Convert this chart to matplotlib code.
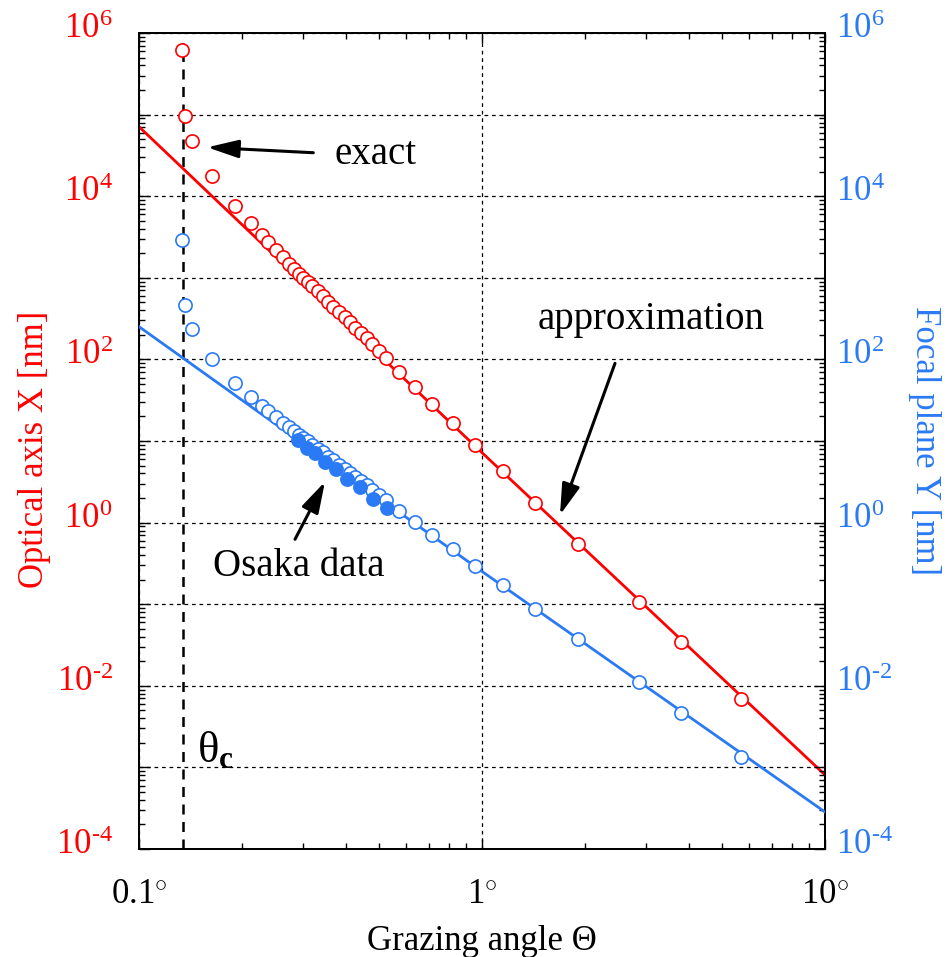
import matplotlib
matplotlib.use("Agg")
import matplotlib.pyplot as plt
from matplotlib.ticker import FixedLocator, FuncFormatter, LogLocator, NullFormatter
import matplotlib.transforms as mtransforms

plt.rcParams['font.family'] = ['Liberation Serif', 'DejaVu Serif']
plt.rcParams['mathtext.fontset'] = 'custom'
plt.rcParams['mathtext.rm'] = 'Liberation Serif'
plt.rcParams['mathtext.it'] = 'Liberation Serif:italic'
plt.rcParams['mathtext.bf'] = 'Liberation Serif:bold'

RED = '#ff0000'
BLUE = '#2a7af5'

# ---------------- data ----------------
# grazing angles [deg] of the "exact" points
theta_exact = [0.1332, 0.1362, 0.1430, 0.1636, 0.1905, 0.2121,
               0.2279, 0.2382, 0.2503, 0.2634, 0.2737, 0.2836, 0.2927, 0.3013,
               0.3103, 0.3200, 0.3319, 0.3428, 0.3564, 0.3686, 0.3829, 0.3986,
               0.4122, 0.4262, 0.4429, 0.4611, 0.4789, 0.5008, 0.5250,
               0.5741, 0.6378, 0.7165, 0.8214, 0.956, 1.149, 1.427, 1.909,
               2.869, 3.811, 5.69]
# optical axis X [nm] (exact)
x_exact = [6.19e5, 9.62e4, 4.71e4, 1.77e4, 7586, 4699,
           3319, 2748, 2208, 1799, 1489, 1294, 1114, 995,
           881, 787, 684, 590, 509, 443, 384, 333,
           290, 245, 209, 181, 153, 127, 105,
           69.5, 45.5, 28.4, 16.5, 8.85, 4.26, 1.73, 0.542,
           0.1074, 0.0341, 0.00684]
# focal plane Y [nm] (exact)
y_exact = [2904, 464.5, 236, 100.2, 50.9, 34.9,
           26.5, 23.1, 19.7, 16.7, 14.9, 13.3, 12.0, 10.9,
           9.98, 9.04, 8.07, 7.27, 6.44, 5.78, 5.14, 4.53,
           4.06, 3.65, 3.24, 2.86, 2.54, 2.20, 1.90,
           1.387, 1.009, 0.705, 0.471, 0.294, 0.172, 0.0867, 0.0372,
           0.01104, 0.00461, 0.00135]

# Osaka data (focal plane Y)
theta_osaka = [0.290, 0.3083, 0.326, 0.3487, 0.3746, 0.4033, 0.441, 0.482, 0.5275]
y_osaka = [10.28, 8.28, 7.08, 5.48, 4.54, 3.42, 2.71, 1.93, 1.50]

# approximation lines
theta_approx = [0.1, 1.0, 10.0]
x_approx = [7.1e4, 7.2, 8.1e-4]
y_approx = [252, 0.252, 2.84e-4]

# critical angle
theta_c = 0.1341
theta_c_span = [1e-4, 7.5e5]

xticks = [0.1, 1, 10]
xtick_labels = [r'$\mathrm{0.1}^{\circ}$', r'$\mathrm{1}^{\circ}$', r'$\mathrm{10}^{\circ}$']
ydecades = [1e-4, 1e-3, 1e-2, 1e-1, 1e0, 1e1, 1e2, 1e3, 1e4, 1e5, 1e6]
ylabel_exps = {1e-4: '-4', 1e-2: '-2', 1e0: '0', 1e2: '2', 1e4: '4', 1e6: '6'}

# ---------------- figure ----------------
fig = plt.figure(figsize=(9.53, 9.57), dpi=100)
ax = fig.add_axes([139/953, 1-849/957, (825-139)/953, (849-33)/957])
ax2 = ax.twinx()

for a in (ax, ax2):
    a.set_xscale('log')
    a.set_yscale('log')
    a.set_xlim(0.1, 10)
    a.set_ylim(1e-4, 1e6)

ax.set_axisbelow(True)
ax.xaxis.set_major_locator(FixedLocator(xticks))
ax.xaxis.set_minor_locator(LogLocator(base=10, subs=range(2, 10), numticks=50))
ax.xaxis.set_major_formatter(FuncFormatter(lambda v, p: xtick_labels[xticks.index(v)] if v in xticks else ''))
ax.xaxis.set_minor_formatter(NullFormatter())

def yfmt(v, p):
    for k, e in ylabel_exps.items():
        if abs(v / k - 1) < 1e-6:
            return r'$\mathrm{10}^{\text{%s}}$' % e
    return ''

for a in (ax, ax2):
    a.yaxis.set_major_locator(FixedLocator(ydecades))
    a.yaxis.set_minor_locator(LogLocator(base=10, subs=range(2, 10), numticks=50))
    a.yaxis.set_major_formatter(FuncFormatter(yfmt))
    a.yaxis.set_minor_formatter(NullFormatter())

ax.grid(True, which='major', color='black', linestyle=(0, (3, 3)), linewidth=0.9)

ax.tick_params(axis='x', which='both', direction='in', top=True, bottom=True,
               labelsize=25, pad=21, width=1)
ax.tick_params(axis='x', which='major', length=7)
ax.tick_params(axis='x', which='minor', length=4)
ax.tick_params(axis='y', which='both', direction='in', left=True, right=False,
               labelsize=25, labelcolor=RED, pad=19, width=1)
ax.tick_params(axis='y', which='major', length=8)
ax.tick_params(axis='y', which='minor', length=4.5)
ax2.tick_params(axis='y', which='both', direction='in', right=True, left=False,
                labelsize=25, labelcolor=BLUE, pad=8, width=1)
ax2.tick_params(axis='y', which='major', length=8)
ax2.tick_params(axis='y', which='minor', length=4.5)

for a in (ax, ax2):
    for s in a.spines.values():
        s.set_linewidth(1.3)

off = mtransforms.ScaledTranslation(0, -5/100, fig.dpi_scale_trans)
for a in (ax, ax2):
    for lab in a.get_yticklabels():
        lab.set_verticalalignment('baseline')
        lab.set_transform(lab.get_transform() + off)

# critical angle line
ax.plot([theta_c, theta_c], theta_c_span, color='black', linestyle=(0, (4, 3)),
        linewidth=1.8, zorder=2)

# red (left axis)
ax.plot(theta_approx, x_approx, color=RED, linewidth=2, zorder=3)
ax.plot(theta_exact, x_exact, linestyle='none', marker='o', markersize=9.5,
        markerfacecolor='white', markeredgecolor=RED, markeredgewidth=1.2, zorder=4)

# blue (right axis)
ax2.plot(theta_approx, y_approx, color=BLUE, linewidth=2, zorder=3)
ax2.plot(theta_exact, y_exact, linestyle='none', marker='o', markersize=9.5,
         markerfacecolor='white', markeredgecolor=BLUE, markeredgewidth=1.2, zorder=4)
ax2.plot(theta_osaka, y_osaka, linestyle='none', marker='o', markersize=9.5,
         markerfacecolor=BLUE, markeredgecolor=BLUE, markeredgewidth=1.2, zorder=5)

# labels
ax.set_xlabel('Grazing angle Θ', fontsize=25, labelpad=10)
ax.set_ylabel('Optical axis X [nm]', fontsize=25, color=RED)
ax2.set_ylabel('Focal plane Y [nm]', fontsize=25, color=BLUE, rotation=270)
for lab in (ax.yaxis.label, ax2.yaxis.label):
    lab.set_rotation_mode('anchor')
    lab.set_ha('center')
    lab.set_va('center')
ax.yaxis.set_label_coords((35 - 139) / 686, 0.49)
ax2.yaxis.set_label_coords((924 - 139) / 686, 0.5)

# annotations
arrow_kw = dict(arrowstyle='-|>,head_length=1.9,head_width=0.55', color='black',
                lw=2.2, shrinkA=0, shrinkB=0)
ax.annotate('', xy=(0.1582, 3.97e4), xytext=(0.3223, 3.41e4), arrowprops=arrow_kw, zorder=6)
ax.text(0.3727, 3.2e4, 'exact', fontsize=28, va='center', ha='left')

ax.annotate('', xy=(1.688, 1.24), xytext=(2.442, 89.5), arrowprops=arrow_kw, zorder=6)
ax.text(1.457, 304, 'approximation', fontsize=28, va='center', ha='left')

ax.annotate('', xy=(0.3485, 3.17), xytext=(0.285, 0.624), arrowprops=arrow_kw, zorder=6)
ax.text(0.1643, 0.2858, 'Osaka data', fontsize=28, va='center', ha='left')

ax.text(0.1476, 1.16e-3, r'$\mathrm{θ}_{\mathbf{c}}$', fontsize=32, va='baseline', ha='left')

fig.savefig('out.png', dpi=100)
